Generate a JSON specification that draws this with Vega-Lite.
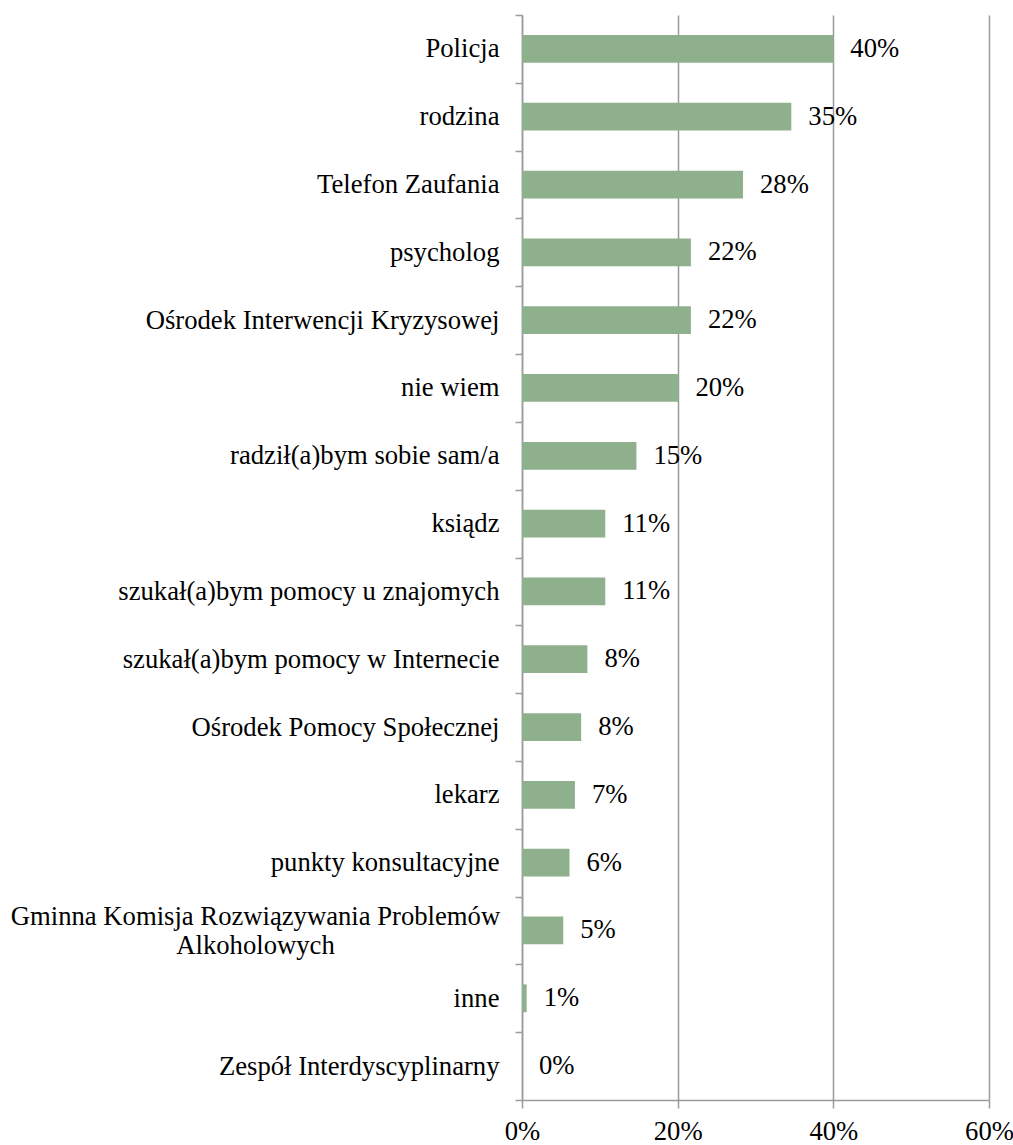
{
  "$schema": "https://vega.github.io/schema/vega-lite/v6.json",
  "autosize": {"type": "none"},
  "padding": {"left": 522, "top": 15, "right": 24, "bottom": 45},
  "width": 467,
  "height": 1085,
  "background": "white",
  "config": {
    "font": "Liberation Serif",
    "view": {"stroke": null}
  },
  "data": {
    "values": [
      {"kategoria": "Policja", "odsetek": 0.40},
      {"kategoria": "rodzina", "odsetek": 0.346},
      {"kategoria": "Telefon Zaufania", "odsetek": 0.284},
      {"kategoria": "psycholog", "odsetek": 0.217},
      {"kategoria": "Ośrodek Interwencji Kryzysowej", "odsetek": 0.217},
      {"kategoria": "nie wiem", "odsetek": 0.201},
      {"kategoria": "radził(a)bym sobie sam/a", "odsetek": 0.147},
      {"kategoria": "ksiądz", "odsetek": 0.107},
      {"kategoria": "szukał(a)bym pomocy u znajomych", "odsetek": 0.107},
      {"kategoria": "szukał(a)bym pomocy w Internecie", "odsetek": 0.084},
      {"kategoria": "Ośrodek Pomocy Społecznej", "odsetek": 0.076},
      {"kategoria": "lekarz", "odsetek": 0.068},
      {"kategoria": "punkty konsultacyjne", "odsetek": 0.061},
      {"kategoria": "Gminna Komisja Rozwiązywania Problemów Alkoholowych", "odsetek": 0.053},
      {"kategoria": "inne", "odsetek": 0.006},
      {"kategoria": "Zespół Interdyscyplinarny", "odsetek": 0.0}
    ]
  },
  "encoding": {
    "y": {
      "field": "kategoria",
      "type": "nominal",
      "sort": null,
      "scale": {"paddingInner": 0, "paddingOuter": 0},
      "axis": {
        "title": null,
        "domainColor": "#9a9a9a",
        "domainWidth": 1.5,
        "tickColor": "#9a9a9a",
        "tickWidth": 1.5,
        "tickSize": 7,
        "tickBand": "extent",
        "labelFontSize": 26.67,
        "labelColor": "black",
        "labelPadding": {"condition": {"test": "datum.value == 'Gminna Komisja Rozwiązywania Problemów Alkoholowych'", "value": 260}, "value": 16},
        "labelAlign": {"condition": {"test": "datum.value == 'Gminna Komisja Rozwiązywania Problemów Alkoholowych'", "value": "center"}, "value": "right"},
        "labelOffset": {"condition": {"test": "datum.value == 'Gminna Komisja Rozwiązywania Problemów Alkoholowych'", "value": -14}, "value": 0},
        "labelLimit": 700,
        "labelLineHeight": 29,
        "labelExpr": "datum.value == 'Gminna Komisja Rozwiązywania Problemów Alkoholowych' ? ['Gminna Komisja Rozwiązywania Problemów', 'Alkoholowych'] : datum.label",
        "grid": false
      }
    }
  },
  "layer": [
    {
      "mark": {"type": "bar", "color": "#8fb08c", "height": {"band": 0.41}},
      "encoding": {
        "x": {
          "field": "odsetek",
          "type": "quantitative",
          "scale": {"domain": [0, 0.6], "nice": false},
          "axis": {
            "title": null,
            "format": ".0%",
            "values": [0, 0.2, 0.4, 0.6],
            "grid": true,
            "gridColor": "#9a9a9a",
            "gridWidth": 1.5,
            "domainColor": "#9a9a9a",
            "domainWidth": 1.5,
            "tickColor": "#9a9a9a",
            "tickWidth": 1.5,
            "tickSize": 8,
            "labelFontSize": 26.67,
            "labelColor": "black",
            "labelPadding": 10,
            "labelFlush": false
          }
        }
      }
    },
    {
      "mark": {"type": "text", "align": "left", "baseline": "middle", "dx": 17, "fontSize": 26.67, "color": "black"},
      "encoding": {
        "x": {"field": "odsetek", "type": "quantitative"},
        "text": {"field": "odsetek", "type": "quantitative", "format": ".0%"}
      }
    }
  ]
}
